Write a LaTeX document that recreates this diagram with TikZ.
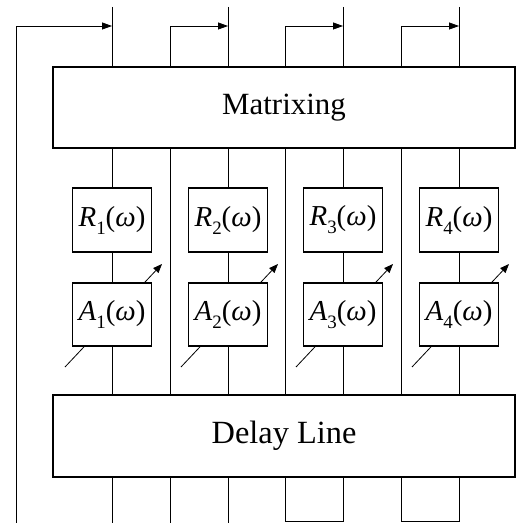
\documentclass[tikz,border=0pt]{standalone}
\usepackage{fontspec}
\setmainfont{Liberation Serif}
\usetikzlibrary{arrows.meta,backgrounds}

\tikzset{
  bigbox/.style={draw, line width=2.2bp, fill=white, minimum width=462bp,
    minimum height=81bp, font=\fontsize{31}{36}\selectfont},
  filtbox/.style={draw, line width=1.8bp, fill=white, minimum width=79bp,
    minimum height=63bp, inner sep=0pt, font=\fontsize{29}{32}\selectfont},
  wire/.style={line width=0.8bp},
  feed/.style={wire, -{Triangle[length=10bp,width=7bp]}},
  gain/.style={wire, -{Triangle[length=9bp,width=7bp]}}
}
\newcommand{\fresp}[2]{\textit{#1}\raisebox{-8bp}{\fontsize{19}{19}\selectfont #2}(\textit{ω})}

\begin{document}
\begin{tikzpicture}[x=1bp,y=-1bp]
\useasboundingbox (0,0) rectangle (517,523);

% Big blocks
\node[bigbox] (mtx) at (284,107.5) {Matrixing};
\node[bigbox, minimum height=82bp, font=\fontsize{32.5}{36}\selectfont] (dly) at (284,436) {Delay Line};

% Filters
\node[filtbox, minimum height=64bp] (r1) at (112,220) {\fresp{R}{1}};
\node[filtbox, minimum height=64bp] (r2) at (228,220) {\fresp{R}{2}};
\node[filtbox, minimum height=64bp] (r3) at (343,220) {\fresp{R}{3}};
\node[filtbox, minimum height=64bp] (r4) at (459,220) {\fresp{R}{4}};
\node[filtbox] (a1) at (112,314.5) {\fresp{A}{1}};
\node[filtbox] (a2) at (228,314.5) {\fresp{A}{2}};
\node[filtbox] (a3) at (343,314.5) {\fresp{A}{3}};
\node[filtbox] (a4) at (459,314.5) {\fresp{A}{4}};

% Free ends
\coordinate (t1) at (112,7);
\coordinate (t2) at (228,7);
\coordinate (t3) at (343,7);
\coordinate (t4) at (459,7);
\coordinate (k1) at (112,26);
\coordinate (k2) at (228,26);
\coordinate (k3) at (343,26);
\coordinate (k4) at (459,26);
\coordinate (b1) at (112,523);
\coordinate (b2) at (228,523);
\coordinate (b3) at (343,521.5);
\coordinate (b4) at (459,521.5);
\coordinate (fb) at (16,523);
\coordinate (s1) at (170,523);
\coordinate (s2) at (285,521.5);
\coordinate (s3) at (401,521.5);

% Channels
\draw[wire] (t1) -- (t1 |- mtx.north);
\draw[wire] (t2) -- (t2 |- mtx.north);
\draw[wire] (t3) -- (t3 |- mtx.north);
\draw[wire] (t4) -- (t4 |- mtx.north);
\draw[wire] (r1 |- mtx.south) -- (r1) -- (a1) -- (a1 |- dly.north);
\draw[wire] (r2 |- mtx.south) -- (r2) -- (a2) -- (a2 |- dly.north);
\draw[wire] (r3 |- mtx.south) -- (r3) -- (a3) -- (a3 |- dly.north);
\draw[wire] (r4 |- mtx.south) -- (r4) -- (a4) -- (a4 |- dly.north);
\draw[wire] (a1 |- dly.south) -- (b1);
\draw[wire] (a2 |- dly.south) -- (b2);

% Feedback paths
\draw[feed] (fb) |- (k1);
\draw[feed] (s1 |- mtx.north) |- (k2);
\draw[feed] (s2 |- mtx.north) |- (k3);
\draw[feed] (s3 |- mtx.north) |- (k4);
\draw[wire] (s1 |- mtx.south) -- (s1 |- dly.north);
\draw[wire] (s2 |- mtx.south) -- (s2 |- dly.north);
\draw[wire] (s3 |- mtx.south) -- (s3 |- dly.north);
\draw[wire] (s1 |- dly.south) -- (s1);
\draw[wire] (a3 |- dly.south) -- (b3) -- (s2) -- (s2 |- dly.south);
\draw[wire] (a4 |- dly.south) -- (b4) -- (s3) -- (s3 |- dly.south);

% Variable gains
\begin{pgfonlayer}{background}
\draw[gain] ([shift={(-47,52.5)}]a1.center) -- ([shift={(50,-50.5)}]a1.center);
\draw[gain] ([shift={(-47,52.5)}]a2.center) -- ([shift={(50,-50.5)}]a2.center);
\draw[gain] ([shift={(-47,52.5)}]a3.center) -- ([shift={(50,-50.5)}]a3.center);
\draw[gain] ([shift={(-47,52.5)}]a4.center) -- ([shift={(50,-50.5)}]a4.center);
\end{pgfonlayer}
\end{tikzpicture}
\end{document}
